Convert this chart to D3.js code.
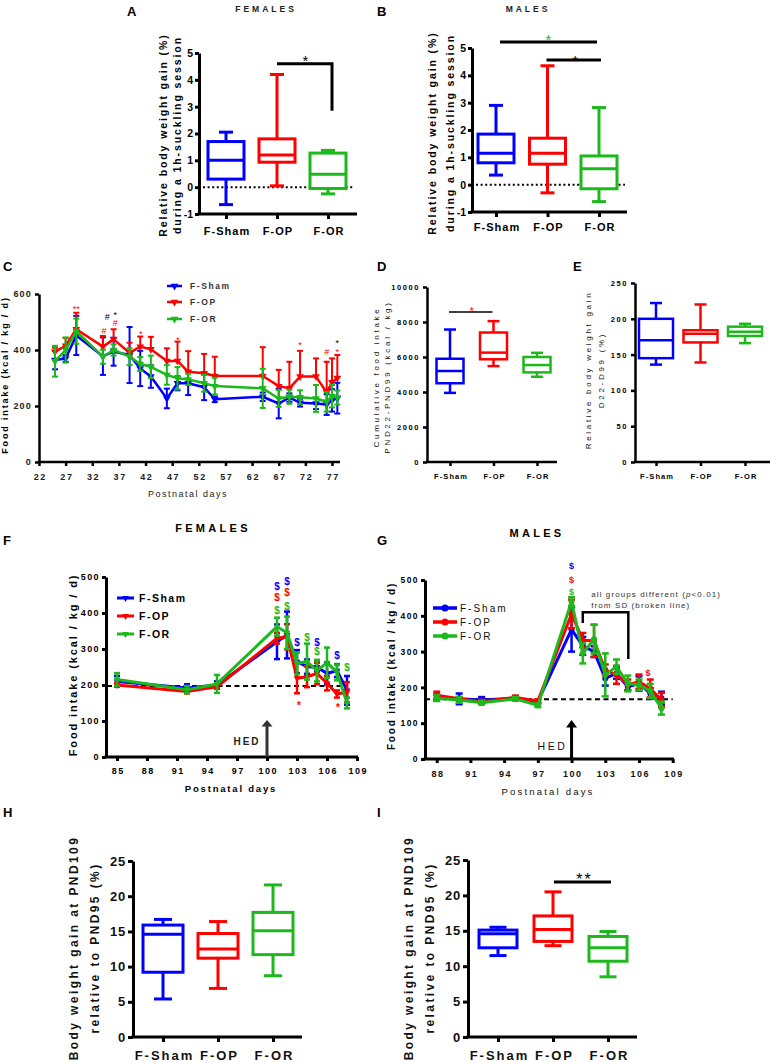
<!DOCTYPE html>
<html><head><meta charset="utf-8">
<script src="https://cdn.jsdelivr.net/npm/d3@7"></script>
<style>
body{margin:0;background:#fff;}
svg{display:block;}
</style></head><body>
<svg id="fig" width="772" height="1062"></svg>
<script>
// ---------------- DATA ----------------
const groups = ["F-Sham", "F-OP", "F-OR"];
// box data: [min, q1, median, q3, max] per group
const boxA = [[-0.65, 0.3, 1.0, 1.7, 2.05], [0.05, 0.93, 1.2, 1.8, 4.2], [-0.25, -0.05, 0.48, 1.27, 1.37]];
const boxB = [[0.35, 0.8, 1.15, 1.85, 2.9], [-0.3, 0.75, 1.15, 1.7, 4.35], [-0.62, -0.15, 0.58, 1.05, 2.82]];
const boxD = [[3950, 4500, 5200, 5900, 7570], [5480, 5870, 6250, 7400, 8050], [4870, 5120, 5540, 6000, 6240]];
const boxE = [[136, 145, 170, 200, 222], [139, 167, 179, 184, 220], [166, 176, 182, 189, 193]];
const boxH = [[5.4, 9.2, 14.6, 15.9, 16.7], [6.9, 11.2, 12.5, 14.7, 16.4], [8.7, 11.7, 15.1, 17.7, 21.6]];
const boxI = [[11.5, 12.6, 14.6, 15.1, 15.5], [12.9, 13.5, 15.2, 17.1, 20.5], [8.5, 10.7, 12.6, 14.2, 14.9]];

const ticksAB = [-1, 0, 1, 2, 3, 4, 5];
const ticksD = [0, 2000, 4000, 6000, 8000, 10000];
const ticksE = [0, 50, 100, 150, 200, 250];
const ticksHI = [0, 5, 10, 15, 20, 25];

// Panel C: food intake PND25-78
const daysC = [25, 27, 29, 34, 36, 39, 41, 43, 46, 48, 50, 53, 55, 64, 67, 69, 71, 74, 76, 77, 78];
const C_sham = [364, 370, 452, 378, 394, 382, 334, 305, 227, 281, 281, 267, 224, 233, 209, 230, 212, 209, 205, 220, 228];
const C_sham_err = [33, 12, 70, 67, 50, 100, 63, 40, 35, 25, 42, 46, 10, 15, 53, 15, 14, 20, 37, 40, 55];
const C_op = [394, 415, 474, 412, 438, 390, 412, 403, 361, 361, 322, 317, 307, 307, 271, 263, 305, 305, 248, 285, 300];
const C_op_err = [14, 28, 59, 38, 36, 36, 36, 44, 45, 69, 74, 69, 69, 103, 58, 95, 92, 65, 110, 85, 82];
const C_or = [360, 400, 467, 376, 400, 376, 350, 340, 311, 299, 295, 281, 271, 263, 227, 233, 231, 227, 215, 235, 230];
const C_or_err = [55, 45, 45, 25, 20, 30, 25, 40, 35, 40, 20, 30, 30, 70, 30, 25, 25, 48, 35, 40, 25];
const ticksCx = [22, 27, 32, 37, 42, 47, 52, 57, 62, 67, 72, 77];
const ticksCy = [0, 200, 400, 600];
// annotations C: [day, value, text, colour index (0 blue,1 red,2 green,3 black)]
const annC = [[29, 553, "**", 1], [34.8, 518, "#", 3], [36.3, 532, "*", 3], [34.2, 468, "#", 1], [36.3, 496, "#", 1],
  [41.1, 464, "*", 1], [48.1, 443, "*", 1], [71, 425, "*", 1], [76, 393, "#", 1], [78, 400, "*", 1], [78, 432, "*", 3]];

// Panel F: females HED
const daysF = [85, 92, 95, 101, 102, 103, 104, 105, 106, 107, 108];
const F_sham = [210, 192, 200, 320, 339, 265, 251, 250, 232, 240, 185];
const F_sham_err = [15, 10, 10, 48, 65, 32, 20, 12, 30, 18, 40];
const F_op = [200, 182, 195, 330, 334, 219, 223, 232, 205, 175, 180];
const F_op_err = [5, 5, 5, 15, 35, 42, 29, 30, 20, 10, 28];
const F_or = [215, 187, 203, 362, 345, 260, 265, 240, 262, 235, 150];
const F_or_err = [18, 10, 25, 25, 45, 30, 50, 30, 42, 22, 15];
const ticksFx = [85, 88, 91, 94, 97, 100, 103, 106, 109];
const ticksFGy = [0, 100, 200, 300, 400, 500];
const annF = [[101, 475, "$", 0], [101, 442, "$", 1], [101, 406, "$", 2], [102, 489, "$", 0], [102, 456, "$", 1], [102, 419, "$", 2],
  [103, 317, "$", 0], [104, 333, "$", 2], [105, 319, "$", 0], [105, 292, "$", 2], [107, 283, "$", 0], [108, 250, "$", 2],
  [103.2, 150, "*", 1], [107.1, 144, "*", 1]];
const sdF = 197;

// Panel G: males HED
const daysG = [88, 90, 92, 95, 97, 100, 101, 102, 103, 104, 105, 106, 107, 108];
const G_sham = [172, 168, 165, 170, 160, 362, 316, 300, 225, 239, 202, 211, 183, 170];
const G_sham_err = [8, 15, 8, 5, 5, 62, 25, 15, 20, 15, 10, 20, 15, 18];
const G_op = [178, 168, 160, 172, 162, 405, 332, 330, 249, 235, 207, 216, 197, 165];
const G_op_err = [10, 5, 5, 5, 5, 40, 20, 45, 15, 25, 15, 20, 25, 20];
const G_or = [170, 165, 157, 168, 150, 440, 295, 335, 235, 258, 211, 207, 190, 142];
const G_or_err = [8, 8, 5, 5, 5, 12, 28, 40, 60, 20, 22, 15, 20, 18];
const ticksGx = [88, 91, 94, 97, 100, 103, 106, 109];
const annG = [[100, 539, "$", 0], [100, 500, "$", 1], [100, 466, "$", 2], [106.8, 240, "$", 1]];
const sdG = 167;

// ---------------- STYLE ----------------
const FONT = '"Liberation Sans", Arial, Helvetica, sans-serif';
const COL = ["#0000ff", "#ff0000", "#1cb81c", "#000000"];
const svg = d3.select("#fig").attr("font-family", FONT);

function txt(x, y, s, o = {}) {
  const t = svg.append("text").attr("x", x).attr("y", y).text(s)
    .attr("font-size", o.size || 10).attr("font-weight", o.weight || "normal")
    .attr("fill", o.fill || "#000").attr("text-anchor", o.anchor || "start")
    .attr("letter-spacing", o.ls || 0).attr("font-family", FONT);
  if (o.rotate) t.attr("transform", `rotate(-90 ${x} ${y})`);
  return t;
}
function vtitle(cx, cy, s, o) { // rotated title centred on cx
  return txt(cx + o.size * 0.35, cy, s, Object.assign({ anchor: "middle", rotate: true }, o));
}
function yAxis(y, ax, ticks, o) {
  const g = svg.append("g").attr("transform", `translate(${ax},0)`)
    .call(d3.axisLeft(y).tickValues(ticks).tickSize(o.tl).tickSizeOuter(0).tickPadding(o.pad).tickFormat(d => String(d)));
  g.attr("font-family", FONT);
  g.select(".domain").attr("stroke", "#000").attr("stroke-width", o.aw);
  g.selectAll(".tick line").attr("stroke", "#000").attr("stroke-width", o.aw);
  g.selectAll(".tick text").attr("font-size", o.fs).attr("font-weight", o.fw).attr("letter-spacing", o.ls)
    .attr("fill", o.fill || "#000").attr("font-family", FONT);
  return g;
}
function xAxis(x, yb, ax, xEnd, ticks, o) {
  const axis = (ticks ? d3.axisBottom(x).tickValues(ticks) : d3.axisBottom(x));
  const pad = o.base - yb - o.tl - 0.71 * o.fs;
  const g = svg.append("g").attr("transform", `translate(0,${yb})`)
    .call(axis.tickSize(o.tl).tickSizeOuter(0).tickPadding(pad).tickFormat(d => String(d)));
  g.attr("font-family", FONT);
  g.select(".domain").remove();
  g.selectAll(".tick line").attr("stroke", "#000").attr("stroke-width", o.aw);
  g.selectAll(".tick text").attr("font-size", o.fs).attr("font-weight", o.fw).attr("letter-spacing", o.ls)
    .attr("fill", o.fill || "#000").attr("font-family", FONT).attr("dx", o.ls / 2);
  svg.append("line").attr("x1", ax - o.aw / 2).attr("x2", xEnd).attr("y1", yb).attr("y2", yb)
    .attr("stroke", "#000").attr("stroke-width", o.aw);
  return g;
}

function boxPanel(c) {
  const y = d3.scaleLinear().domain([c.ticks[0], c.ticks[c.ticks.length - 1]]).range([c.yBot, c.yTop]);
  const x = d3.scalePoint().domain(groups).range([c.x1, c.x3]);
  if (c.zero) {
    svg.append("line").attr("x1", c.zero[0]).attr("x2", c.zero[1]).attr("y1", y(0)).attr("y2", y(0))
      .attr("stroke", "#000").attr("stroke-width", 2).attr("stroke-dasharray", "2,2.6");
  }
  const pts = groups.map((gname, i) => ({ g: gname, i, s: c.data[i] }));
  const gb = svg.append("g");
  const st = (sel, p) => sel.attr("stroke", COL[p.i]).attr("stroke-width", c.sw).attr("fill", "none");
  pts.forEach(p => {
    const [mn, q1, md, q3, mx] = p.s, cx = x(p.g);
    st(gb.append("line").attr("x1", cx).attr("x2", cx).attr("y1", y(mn)).attr("y2", y(q1)), p);
    st(gb.append("line").attr("x1", cx).attr("x2", cx).attr("y1", y(q3)).attr("y2", y(mx)), p);
    st(gb.append("line").attr("x1", cx - c.capW / 2).attr("x2", cx + c.capW / 2).attr("y1", y(mn)).attr("y2", y(mn)), p);
    st(gb.append("line").attr("x1", cx - c.capW / 2).attr("x2", cx + c.capW / 2).attr("y1", y(mx)).attr("y2", y(mx)), p);
    st(gb.append("rect").attr("x", cx - c.boxW / 2).attr("width", c.boxW).attr("y", y(q3)).attr("height", y(q1) - y(q3)), p).attr("fill", "#fff");
    st(gb.append("line").attr("x1", cx - c.boxW / 2).attr("x2", cx + c.boxW / 2).attr("y1", y(md)).attr("y2", y(md)), p);
  });
  yAxis(y, c.ax, c.ticks, c.yo);
  xAxis(x, c.yBot, c.ax, c.xEnd, null, c.xo);
  c.titles.forEach(t => vtitle(t[0], c.tcy, t[1], c.to));
  return { x, y };
}

function drawSeries(x, y, days, vals, errs, ci, o) {
  const pts = days.map((d, i) => ({ d, v: vals[i], e: errs[i] }));
  const g = svg.append("g");
  const color = COL[ci];
  g.selectAll("line.eb").data(pts).join("line").attr("class", "eb")
    .attr("x1", p => x(p.d)).attr("x2", p => x(p.d))
    .attr("y1", p => y(p.v + p.e)).attr("y2", p => y(o.upOnly ? p.v : p.v - p.e))
    .attr("stroke", color).attr("stroke-width", o.ew);
  g.selectAll("line.ct").data(pts).join("line").attr("class", "ct")
    .attr("x1", p => x(p.d) - o.cap / 2).attr("x2", p => x(p.d) + o.cap / 2)
    .attr("y1", p => y(p.v + p.e)).attr("y2", p => y(p.v + p.e)).attr("stroke", color).attr("stroke-width", o.ew);
  if (!o.upOnly) {
    g.selectAll("line.cb").data(pts).join("line").attr("class", "cb")
      .attr("x1", p => x(p.d) - o.cap / 2).attr("x2", p => x(p.d) + o.cap / 2)
      .attr("y1", p => y(p.v - p.e)).attr("y2", p => y(p.v - p.e)).attr("stroke", color).attr("stroke-width", o.ew);
  }
  g.append("path").datum(pts).attr("d", d3.line().x(p => x(p.d)).y(p => y(p.v)))
    .attr("fill", "none").attr("stroke", color).attr("stroke-width", o.lw).attr("stroke-linejoin", "round");
  const sym = o.marker === "circle" ? d3.symbol().type(d3.symbolCircle).size(o.ms) : d3.symbol().type(d3.symbolTriangle).size(o.ms);
  g.selectAll("path.mk").data(pts).join("path").attr("class", "mk")
    .attr("d", sym).attr("fill", color)
    .attr("transform", p => `translate(${x(p.d)},${y(p.v)})` + (o.marker === "circle" ? "" : " rotate(180)"));
}
function legend(items, x0, x1, tx, ys, o) {
  items.forEach((name, i) => {
    svg.append("line").attr("x1", x0).attr("x2", x1).attr("y1", ys[i]).attr("y2", ys[i]).attr("stroke", COL[i]).attr("stroke-width", o.lw);
    const sym = o.marker === "circle" ? d3.symbol().type(d3.symbolCircle).size(o.ms) : d3.symbol().type(d3.symbolTriangle).size(o.ms);
    svg.append("path").attr("d", sym).attr("fill", COL[i])
      .attr("transform", `translate(${(x0 + x1) / 2},${ys[i]})` + (o.marker === "circle" ? "" : " rotate(180)"));
    txt(tx, ys[i] + o.dy, name, o.t);
  });
}
function annotate(x, y, list, fs, weight) {
  list.forEach(a => {
    const t = a[2];
    const off = t.indexOf("*") >= 0 ? 0.55 * fs : 0.36 * fs;
    txt(x(a[0]), y(a[1]) + off, t, { size: fs, weight, fill: COL[a[3]], anchor: "middle" });
  });
}

// ---------------- PANEL LETTERS & TITLES ----------------
const L = { size: 13, weight: "bold" };
txt(127, 16, "A", L); txt(377, 16, "B", L);
txt(3, 271, "C", L); txt(377, 271, "D", L); txt(573, 271, "E", L);
txt(3, 545, "F", L); txt(377, 545, "G", L);
txt(3, 817, "H", L); txt(377, 817, "I", L);
txt(266, 12, "FEMALES", { size: 8.5, weight: "bold", ls: 3, anchor: "middle", fill: "#222" });
txt(528, 12, "MALES", { size: 8.5, weight: "bold", ls: 3, anchor: "middle", fill: "#222" });
txt(213, 532, "FEMALES", { size: 11, weight: "bold", ls: 3.3, anchor: "middle" });
txt(537, 537, "MALES", { size: 11, weight: "bold", ls: 3.3, anchor: "middle" });

// ---------------- A & B ----------------
const abY = { tl: 4, pad: 2, aw: 3, fs: 10.5, fw: "bold", ls: 0 };
const abX = { tl: 5, aw: 3, fs: 11, fw: "bold", ls: 1, base: 235 };
const abT = { size: 10.5, weight: "bold", ls: 1.9 };
const pA = boxPanel({ data: boxA, ticks: ticksAB, ax: 199, yTop: 53, yBot: 214, x1: 226, x3: 328, xEnd: 357,
  boxW: 36, capW: 14, sw: 3, zero: [203, 353], yo: abY, xo: abX, to: abT, tcy: 135,
  titles: [[163, "Relative body weight gain (%)"], [177.5, "during a 1h-suckling session"]] });
{
  const xr = pA.x("F-OR") + 4, yl = pA.y(4.6);
  svg.append("path").attr("d", `M${pA.x("F-OP")},${yl}H${xr}V${pA.y(2.85)}`).attr("fill", "none").attr("stroke", "#000").attr("stroke-width", 3);
  txt((pA.x("F-OP") + xr) / 2 + 1, yl + 2, "*", { size: 15, anchor: "middle" });
}
const pB = boxPanel({ data: boxB, ticks: ticksAB, ax: 472, yTop: 48, yBot: 212, x1: 496, x3: 599, xEnd: 627,
  boxW: 36, capW: 14, sw: 3, zero: [476, 625], yo: abY, xo: Object.assign({}, abX, { base: 231 }), to: abT, tcy: 133,
  titles: [[432.5, "Relative body weight gain (%)"], [450, "during a 1h-suckling session"]] });
{
  const y1 = pB.y(5.22), y2 = pB.y(4.56);
  svg.append("line").attr("x1", pB.x("F-Sham") + 4).attr("x2", pB.x("F-OR") - 2).attr("y1", y1).attr("y2", y1).attr("stroke", "#000").attr("stroke-width", 3);
  svg.append("line").attr("x1", pB.x("F-OP") - 1).attr("x2", pB.x("F-OR") + 2).attr("y1", y2).attr("y2", y2).attr("stroke", "#000").attr("stroke-width", 3);
  txt(pB.x("F-OP") + 1, y1 + 3, "*", { size: 15, anchor: "middle", fill: COL[2] });
  txt((pB.x("F-OP") + pB.x("F-OR")) / 2 + 2, y2 + 6, "*", { size: 15, anchor: "middle" });
}

// ---------------- C ----------------
{
  const x = d3.scaleLinear().domain([22, 77]).range([39, 332]);
  const y = d3.scaleLinear().domain([0, 600]).range([462, 294]);
  const o = { ew: 2, cap: 6, lw: 2.5, ms: 26 };
  drawSeries(x, y, daysC, C_sham, C_sham_err, 0, o);
  drawSeries(x, y, daysC, C_op, C_op_err, 1, Object.assign({}, o, { upOnly: true }));
  drawSeries(x, y, daysC, C_or, C_or_err, 2, o);
  yAxis(y, 39, ticksCy, { tl: 4, pad: 3, aw: 2.5, fs: 9, fw: "bold", ls: 1.2, fill: "#222" });
  xAxis(x, 462, 39, 340, ticksCx, { tl: 4, aw: 2.5, fs: 9, fw: "bold", ls: 1.6, base: 480, fill: "#222" });
  txt(188, 497, "Postnatal days", { size: 9, ls: 1.5, anchor: "middle", fill: "#222" });
  vtitle(5, 375, "Food intake (kcal / kg / d)", { size: 9, weight: "bold", ls: 1.85 });
  legend(groups, 167, 182, 190, [286, 302, 319], { lw: 2.5, ms: 26, dy: 3, t: { size: 8.5, weight: "bold", ls: 1.6, fill: "#333" } });
  annotate(x, y, annC, 9, "normal");
}

// ---------------- D & E ----------------
const deY = { tl: 4, pad: 3, aw: 2.5, fs: 7.5, fw: "bold", ls: 1.6 };
const deX = { tl: 4, aw: 2.5, fs: 7.5, fw: "bold", ls: 1.1, base: 479 };
const deT = { size: 8, ls: 2.7, fill: "#111" };
const pD = boxPanel({ data: boxD, ticks: ticksD, ax: 427, yTop: 287, yBot: 462, x1: 450, x3: 537, xEnd: 557,
  boxW: 27, capW: 12, sw: 2.5, yo: deY, xo: deX, to: deT, tcy: 377,
  titles: [[376.5, "Cumulative food intake"], [387.5, "PND22-PND99 (kcal / kg)"]] });
{
  const yl = pD.y(8571);
  svg.append("line").attr("x1", pD.x("F-Sham") - 1).attr("x2", pD.x("F-OP") - 1).attr("y1", yl).attr("y2", yl).attr("stroke", "#000").attr("stroke-width", 1.5);
  txt((pD.x("F-Sham") + pD.x("F-OP")) / 2, yl + 3, "*", { size: 10, anchor: "middle", fill: COL[1] });
}
boxPanel({ data: boxE, ticks: ticksE, ax: 635, yTop: 283, yBot: 462, x1: 656, x3: 745, xEnd: 770,
  boxW: 34, capW: 12, sw: 2.5, yo: deY, xo: deX, to: deT, tcy: 370,
  titles: [[588, "Relative body weight gain"], [601, "D22-D99 (%)"]] });

// ---------------- F ----------------
{
  const x = d3.scaleLinear().domain([85, 109]).range([117, 357]);
  const y = d3.scaleLinear().domain([0, 500]).range([757, 577]);
  svg.append("line").attr("x1", x(84)).attr("x2", x(108.1)).attr("y1", y(sdF)).attr("y2", y(sdF))
    .attr("stroke", "#000").attr("stroke-width", 2).attr("stroke-dasharray", "5,3.5");
  const o = { ew: 2.5, cap: 6, lw: 3, ms: 20 };
  drawSeries(x, y, daysF, F_sham, F_sham_err, 0, o);
  drawSeries(x, y, daysF, F_op, F_op_err, 1, o);
  drawSeries(x, y, daysF, F_or, F_or_err, 2, o);
  yAxis(y, 106, ticksFGy, { tl: 4, pad: 2, aw: 3, fs: 9, fw: "bold", ls: 1.4 });
  xAxis(x, 757, 106, 358, ticksFx, { tl: 4, aw: 3, fs: 9, fw: "bold", ls: 1.5, base: 774 });
  txt(231, 792, "Postnatal days", { size: 9.5, weight: "bold", ls: 1.8, anchor: "middle" });
  vtitle(73, 665, "Food intake (kcal / kg / d)", { size: 11, weight: "bold", ls: 1.9 });
  legend(groups, 117, 134, 139, [598, 616, 634], { lw: 3, ms: 20, dy: 4, t: { size: 10.5, weight: "bold", ls: 1.5 } });
  // HED arrow
  const ax = x(100);
  svg.append("line").attr("x1", ax).attr("x2", ax).attr("y1", y(0)).attr("y2", y(88)).attr("stroke", "#333").attr("stroke-width", 3);
  svg.append("path").attr("d", `M${ax - 5.5},${y(85)}L${ax},${y(103)}L${ax + 5.5},${y(85)}Z`).attr("fill", "#333");
  txt(x(98), y(33), "HED", { size: 10, weight: "bold", ls: 2, anchor: "middle", fill: "#222" });
  annotate(x, y, annF, 10, "bold");
}

// ---------------- G ----------------
{
  const x = d3.scaleLinear().domain([88, 109]).range([436.7, 672.7]);
  const y = d3.scaleLinear().domain([0, 500]).range([759, 580]);
  svg.append("line").attr("x1", 425).attr("x2", x(109)).attr("y1", y(sdG)).attr("y2", y(sdG))
    .attr("stroke", "#000").attr("stroke-width", 2).attr("stroke-dasharray", "5,3.5");
  const o = { ew: 2.5, cap: 7, lw: 3, ms: 28, marker: "circle" };
  drawSeries(x, y, daysG, G_sham, G_sham_err, 0, o);
  drawSeries(x, y, daysG, G_op, G_op_err, 1, o);
  drawSeries(x, y, daysG, G_or, G_or_err, 2, o);
  yAxis(y, 425, ticksFGy, { tl: 4, pad: 2, aw: 3, fs: 8.5, fw: "bold", ls: 1.4 });
  xAxis(x, 759, 425, 674, ticksGx, { tl: 4, aw: 3, fs: 9, fw: "bold", ls: 1.5, base: 777, fill: "#111" });
  txt(548, 795, "Postnatal days", { size: 9.5, ls: 2.2, anchor: "middle", fill: "#111" });
  vtitle(391, 666, "Food intake (kcal / kg / d)", { size: 10, weight: "bold", ls: 1.8 });
  legend(groups, 433, 457, 460, [608, 622, 636], { lw: 3.5, ms: 40, marker: "circle", dy: 4, t: { size: 10, ls: 2, fill: "#111" } });
  // bracket
  svg.append("path").attr("d", `M${x(101)},${y(380)}V${y(410)}H${x(105.05)}V${y(279)}`)
    .attr("fill", "none").attr("stroke", "#000").attr("stroke-width", 2.5);
  const t1 = txt(x(101.75), y(452), "", { size: 8, ls: 1.1, fill: "#333" });
  t1.append("tspan").text("all groups different (");
  t1.append("tspan").attr("font-style", "italic").text("p");
  t1.append("tspan").text("<0.01)");
  txt(x(101.75), y(421), "from SD (broken line)", { size: 8, ls: 1.1, fill: "#333" });
  const ax = x(100);
  svg.append("line").attr("x1", ax).attr("x2", ax).attr("y1", y(0)).attr("y2", y(90)).attr("stroke", "#000").attr("stroke-width", 3);
  svg.append("path").attr("d", `M${ax - 5.5},${y(88)}L${ax},${y(109)}L${ax + 5.5},${y(88)}Z`).attr("fill", "#000");
  txt(x(98.3), y(25), "HED", { size: 10.5, ls: 2.5, anchor: "middle", fill: "#111" });
  annotate(x, y, annG, 9, "bold");
}

// ---------------- H & I ----------------
const hiY = { tl: 5, pad: 2, aw: 3, fs: 13, fw: "bold", ls: 0.8, fill: "#111" };
const hiX = { tl: 5, aw: 3, fs: 13, fw: "bold", ls: 2, base: 1060, fill: "#111" };
const hiT = { size: 12, weight: "bold", ls: 2.4, fill: "#111" };
boxPanel({ data: boxH, ticks: ticksHI, ax: 133, yTop: 861, yBot: 1037, x1: 163, x3: 273, xEnd: 302,
  boxW: 40, capW: 18, sw: 3, yo: hiY, xo: hiX, to: hiT, tcy: 948,
  titles: [[74, "Body weight gain at PND109"], [95, "relative to PND95 (%)"]] });
const pI = boxPanel({ data: boxI, ticks: ticksHI, ax: 468, yTop: 860, yBot: 1037, x1: 498, x3: 608, xEnd: 637,
  boxW: 38, capW: 17, sw: 3, yo: hiY, xo: hiX, to: hiT, tcy: 948,
  titles: [[409, "Body weight gain at PND109"], [430, "relative to PND95 (%)"]] });
{
  const yl = pI.y(21.9);
  svg.append("line").attr("x1", pI.x("F-OP") + 1).attr("x2", pI.x("F-OR") + 3).attr("y1", yl).attr("y2", yl).attr("stroke", "#000").attr("stroke-width", 3);
  txt((pI.x("F-OP") + pI.x("F-OR")) / 2 + 4, yl + 3, "**", { size: 16, ls: 2, anchor: "middle" });
}
</script></body></html>
